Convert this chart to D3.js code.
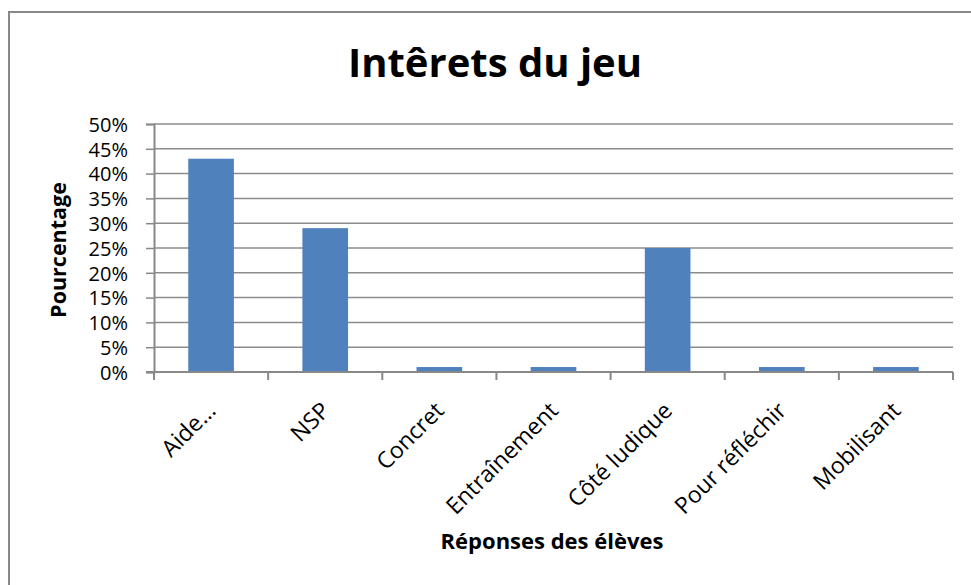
<!DOCTYPE html>
<html>
<head>
<meta charset="utf-8"/>
<title>Intêrets du jeu</title>
<style>
body { margin: 0; background: #fff; }
text { font-family: "Open Sans", Lato, sans-serif; fill: #000; }
</style>
<script src="https://d3js.org/d3.v7.min.js"></script>
</head>
<body>
<div id="chart"></div>
<script>
// data
var categories = ["Aide…", "NSP", "Concret", "Entraînement", "Côté ludique", "Pour réfléchir", "Mobilisant"];
var values = [0.43, 0.29, 0.01, 0.01, 0.25, 0.01, 0.01];
var yTicks = [0, 0.05, 0.10, 0.15, 0.20, 0.25, 0.30, 0.35, 0.40, 0.45, 0.50];

var width = 971, height = 585;
var plotLeft = 154, plotRight = 953, plotTop = 124, plotBottom = 372;

var svg = d3.select("#chart").append("svg")
    .attr("width", width)
    .attr("height", height);

// outer frame
svg.append("rect")
  .attr("x", 9).attr("y", 12)
  .attr("width", 1000).attr("height", 600)
  .attr("fill", "none")
  .attr("stroke", "#888")
  .attr("stroke-width", 2);

var x = d3.scaleBand()
  .domain(categories)
  .range([plotLeft, plotRight])
  .paddingInner(0.6)
  .paddingOuter(0.3);

var y = d3.scaleLinear()
  .domain([0, 0.5])
  .range([plotBottom, plotTop]);

// gridlines
svg.append("g")
  .selectAll("line")
  .data(yTicks.slice(1))
  .enter().append("line")
    .attr("x1", plotLeft).attr("x2", plotRight)
    .attr("y1", function(d) { return y(d); })
    .attr("y2", function(d) { return y(d); })
    .attr("stroke", "#8c8c8c")
    .attr("stroke-width", 1.5);

// y axis
var yAxis = svg.append("g")
  .attr("transform", "translate(" + plotLeft + ",0)")
  .call(d3.axisLeft(y).tickValues(yTicks).tickFormat(d3.format(".0%")).tickSize(8).tickPadding(18));
yAxis.select(".domain").attr("stroke", "#888").attr("stroke-width", 2);
yAxis.selectAll(".tick line").attr("stroke", "#888").attr("stroke-width", 1.5);
yAxis.selectAll(".tick text")
  .attr("fill", "#000")
  .style("font-size", "20px")
  .style("font-family", "'Open Sans', sans-serif")
  .attr("dy", "0.36em");

// bars
svg.append("g")
  .selectAll("rect")
  .data(values)
  .enter().append("rect")
    .attr("x", function(d, i) { return x(categories[i]); })
    .attr("y", function(d) { return y(d); })
    .attr("width", x.bandwidth())
    .attr("height", function(d) { return y(0) - y(d); })
    .attr("fill", "#4f81bd");

// x axis line and ticks at band boundaries
var step = x.step();
var edges = categories.map(function(c) { return x(c) - step * 0.3; });
edges.push(x(categories[categories.length - 1]) + x.bandwidth() + step * 0.3);

svg.append("line")
  .attr("x1", plotLeft - 8).attr("x2", plotRight)
  .attr("y1", plotBottom).attr("y2", plotBottom)
  .attr("stroke", "#888")
  .attr("stroke-width", 2);

svg.append("g")
  .selectAll("line")
  .data(edges)
  .enter().append("line")
    .attr("x1", function(d) { return d; })
    .attr("x2", function(d) { return d; })
    .attr("y1", plotBottom).attr("y2", plotBottom + 8)
    .attr("stroke", "#888")
    .attr("stroke-width", 2);

// rotated category labels
svg.append("g")
  .selectAll("text")
  .data(categories)
  .enter().append("text")
    .attr("transform", function(d) {
      var cx = x(d) + x.bandwidth() / 2 + 6;
      return "translate(" + cx + "," + (plotBottom + 40) + ") rotate(-45)";
    })
    .attr("text-anchor", "end")
    .style("font-size", "23px")
    .text(function(d) { return d; });

// title
svg.append("text")
  .attr("x", 495).attr("y", 77)
  .attr("text-anchor", "middle")
  .style("font-size", "40px")
  .style("font-weight", "bold")
  .text("Intêrets du jeu");

// axis titles
svg.append("text")
  .attr("transform", "translate(66,250) rotate(-90)")
  .attr("text-anchor", "middle")
  .style("font-size", "21.5px")
  .style("font-weight", "bold")
  .text("Pourcentage");

svg.append("text")
  .attr("x", 552).attr("y", 549)
  .attr("text-anchor", "middle")
  .style("font-size", "22px")
  .style("font-weight", "bold")
  .text("Réponses des élèves");
</script>
</body>
</html>
